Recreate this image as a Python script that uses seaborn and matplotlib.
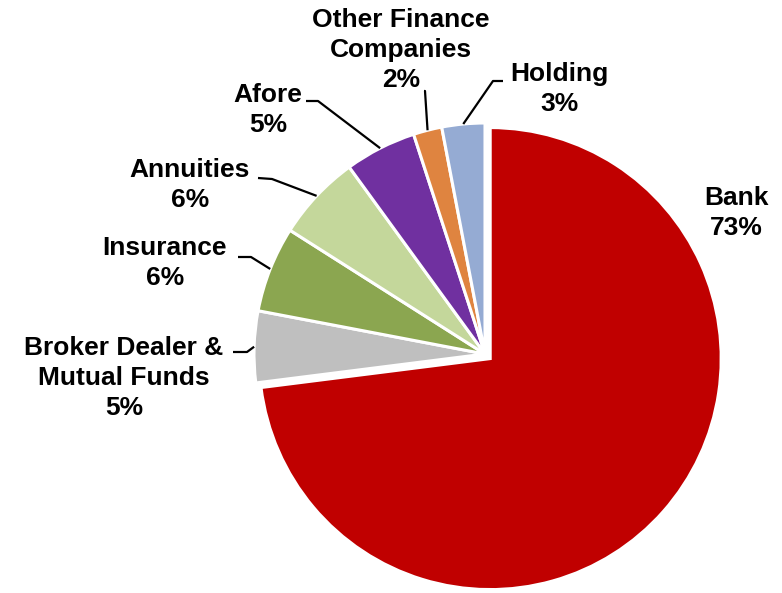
import numpy as np
import matplotlib
matplotlib.use("Agg")
import matplotlib.pyplot as plt
import seaborn as sns

# =========================
# DATA
# =========================
sectors = ["Bank", "Broker Dealer &\nMutual Funds", "Insurance", "Annuities",
           "Afore", "Other Finance\nCompanies", "Holding"]
shares = [73, 5, 6, 6, 5, 2, 3]
colors = ["#C00000", "#BFBFBF", "#8BA650", "#C4D79B", "#7030A0", "#DF8440", "#95ABD3"]

# =========================
# LAYOUT (pixel coords, y down)
# =========================
W, H = 782, 593
PIE_CENTER = (485, 354)
PIE_R = 231
label_xy = [(736, 213), (124, 378), (165, 263), (190, 185), (268, 110), (401, 50), (559, 89)]
# leader: (text end point, elbow point)
leaders = [None, ((233, 352), (247, 352)), ((238, 257), (251, 257)), ((258, 178), (272, 179)),
           ((306, 101), (318, 101)), ((424, 91), (425, 91)), ((503, 81), (493, 81))]


def to_data(p):
    return (p[0], H - p[1])


sns.set_theme(style="white")
plt.rcParams["font.family"] = ["Liberation Sans", "DejaVu Sans"]

fig = plt.figure(figsize=(W / 100, H / 100), dpi=100)
ax = fig.add_axes([0, 0, 1, 1])

pal = sns.color_palette(colors)
# matplotlib's explode is in data units here, so scale by radius
explode = [0.03 * PIE_R] + [0] * (len(shares) - 1)
wedges, _ = ax.pie(shares, colors=pal, startangle=90, counterclock=False,
                   explode=explode, center=to_data(PIE_CENTER), radius=PIE_R,
                   wedgeprops=dict(edgecolor="white", linewidth=2.2), frame=True)

ax.set_xlim(0, W)
ax.set_ylim(0, H)
ax.set_aspect("equal")
ax.axis("off")

for i, w in enumerate(wedges):
    txt = f"{sectors[i]}\n{shares[i]}%"
    x, y = to_data(label_xy[i])
    ax.text(x, y, txt, ha="center", va="center", fontsize=19, fontweight="bold",
            color="black", linespacing=1.3)
    if leaders[i] is not None:
        mid = np.deg2rad((w.theta1 + w.theta2) / 2)
        cx, cy = w.center
        anchor = (cx + w.r * np.cos(mid), cy + w.r * np.sin(mid))
        p0 = to_data(leaders[i][0])
        p1 = to_data(leaders[i][1])
        ax.plot([p0[0], p1[0], anchor[0]], [p0[1], p1[1], anchor[1]],
                color="black", lw=1.6, solid_capstyle="butt")

fig.savefig("out.png", dpi=100)
